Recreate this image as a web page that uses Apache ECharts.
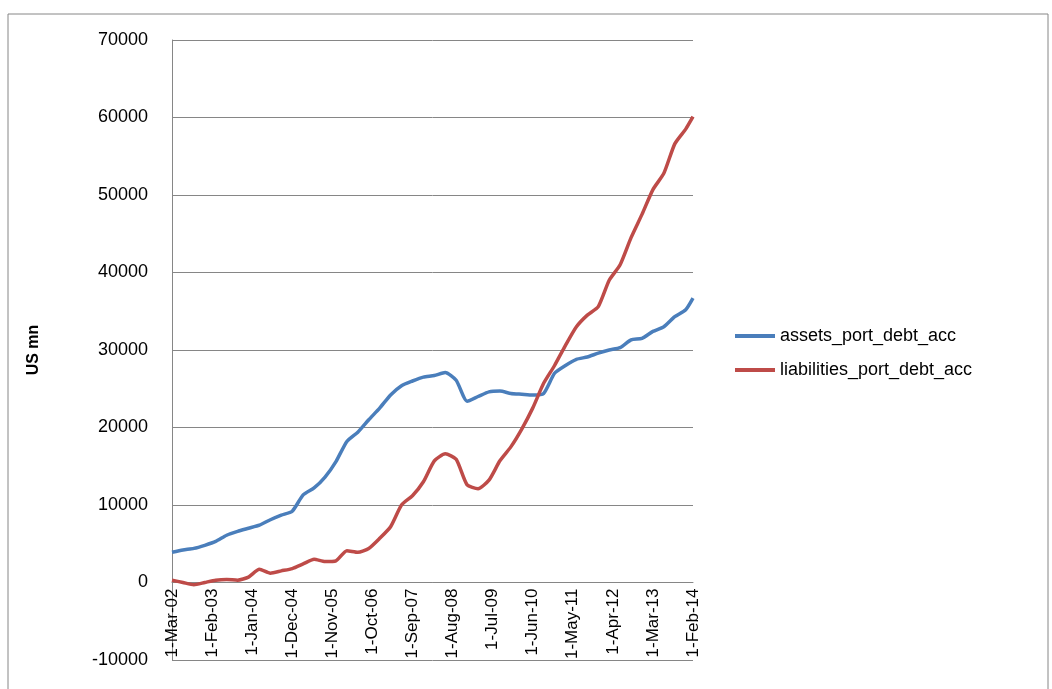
<!DOCTYPE html>
<html style="height:100%">
<head>
  <meta charset="UTF-8">
  <title>Portfolio debt</title>
  <script src="https://cdn.jsdelivr.net/npm/echarts/dist/echarts.min.js"></script>
  <style>
    body { margin: 0; }
    #chart { width: 1052px; height: 689px; }
  </style>
</head>
<body>
<div id="chart"></div>
<script>
  // monthly axis categories, 1-Mar-02 .. 1-Feb-14
  var monNames = ['Jan','Feb','Mar','Apr','May','Jun','Jul','Aug','Sep','Oct','Nov','Dec'];
  var months = [];
  for (var k = 0; k < 144; k++) {
    var m = (2 + k) % 12, y = 2 + Math.floor((2 + k) / 12);
    months.push('1-' + monNames[m] + '-' + (y < 10 ? '0' + y : y));
  }

  // observation dates: quarterly plus the final month
  var obsDates = [];
  for (var q = 0; q < 48; q++) obsDates.push(months[q * 3]);
  obsDates.push('1-Feb-14');

  var assets = [3900, 4200, 4400, 4800, 5300, 6100, 6600, 7000, 7400, 8100, 8700, 9200,
    11300, 12200, 13600, 15600, 18200, 19400, 21000, 22500, 24200, 25400, 26000, 26500,
    26700, 27100, 26100, 23400, 24000, 24600, 24700, 24400, 24300, 24200, 24400, 27000,
    28000, 28800, 29100, 29600, 30000, 30300, 31300, 31500, 32400, 33000, 34300, 35200, 36700];
  var liabilities = [300, 0, -300, 0, 300, 400, 300, 700, 1700, 1200, 1500, 1800,
    2400, 3000, 2700, 2800, 4100, 3900, 4400, 5700, 7200, 10000, 11200, 13000,
    15700, 16600, 15900, 12600, 12100, 13200, 15700, 17500, 19800, 22500, 25700, 28000,
    30600, 33000, 34500, 35600, 39000, 41000, 44500, 47500, 50700, 52800, 56600, 58500, 60100];

  function pairs(vals) {
    return vals.map(function (v, i) { return [obsDates[i], v]; });
  }

  var font = 'Liberation Sans';
  var chart = echarts.init(document.getElementById('chart'));
  chart.setOption({
    animation: false,
    graphic: [{
      type: 'rect', shape: { x: 8, y: 14, width: 1040, height: 680 },
      style: { fill: 'none', stroke: '#868686', lineWidth: 1 }
    }],
    grid: { left: 172, right: 359, top: 40, bottom: 29, outerBoundsMode: 'none', containLabel: false },
    legend: {
      orient: 'vertical', left: 730, top: 322, itemGap: 16,
      itemWidth: 40, itemHeight: 4, icon: 'rect',
      textStyle: { fontFamily: font, fontSize: 18, color: '#000' },
      data: ['assets_port_debt_acc', 'liabilities_port_debt_acc']
    },
    xAxis: {
      type: 'category', data: months, boundaryGap: false,
      position: 'bottom', offset: -77.5,
      axisLine: { onZero: false, lineStyle: { color: '#868686' } },
      axisTick: { show: false },
      axisLabel: {
        interval: 10, rotate: 90, color: '#000',
        fontFamily: font, fontSize: 17, margin: 6
      },
      splitLine: { show: false }
    },
    yAxis: {
      type: 'value', min: -10000, max: 70000, interval: 10000,
      name: 'US mn', nameLocation: 'middle', nameGap: 130, nameRotate: 90,
      nameTextStyle: { fontFamily: font, fontSize: 16, fontWeight: 'bold', color: '#000' },
      axisLine: { show: true, lineStyle: { color: '#868686' } },
      axisTick: { show: false },
      axisLabel: {
        color: '#000', fontFamily: font, fontSize: 18, margin: 24,
        formatter: function (v) { return String(v); }
      },
      splitLine: { lineStyle: { color: '#868686' } }
    },
    series: [
      {
        name: 'assets_port_debt_acc', type: 'line', data: pairs(assets),
        showSymbol: false, smooth: 0.2,
        itemStyle: { color: '#4a7ebb' }, lineStyle: { width: 3.5, color: '#4a7ebb' }
      },
      {
        name: 'liabilities_port_debt_acc', type: 'line', data: pairs(liabilities),
        showSymbol: false, smooth: 0.2,
        itemStyle: { color: '#be4b48' }, lineStyle: { width: 3.5, color: '#be4b48' }
      }
    ]
  });
</script>
</body>
</html>
